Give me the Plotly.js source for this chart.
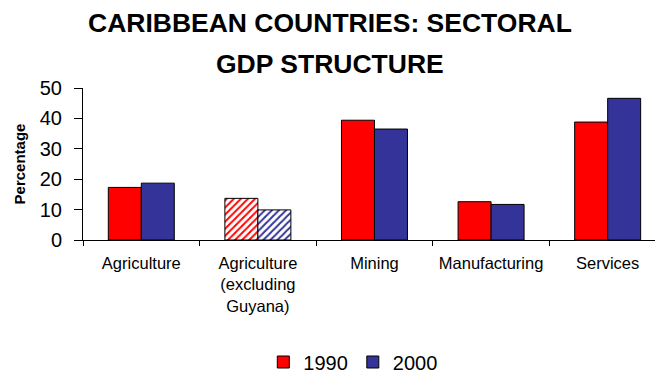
<!DOCTYPE html>
<html>
<head>
<meta charset="utf-8">
<script src="https://cdn.plot.ly/plotly-3.0.1.min.js"></script>
<style>html,body{margin:0;padding:0;background:#fff;}#chart{width:655px;height:373px;}</style>
</head>
<body>
<div id="chart"></div>
<script>
const categories = ["Agriculture", "Agriculture<br>(excluding<br>Guyana)", "Mining", "Manufacturing", "Services"];
const values1990 = [17.3, 13.7, 39.4, 12.6, 38.8];
const values2000 = [18.7, 9.9, 36.5, 11.7, 46.6];
const hatched = ["", "/", "", "", ""];
const titleLine1 = "CARIBBEAN COUNTRIES: SECTORAL";
const titleLine2 = "GDP STRUCTURE";

const FONT = "Liberation Sans, Arial, sans-serif";

function series(name, vals, color) {
  return {
    type: "bar",
    name: name,
    x: categories,
    y: vals,
    marker: {
      color: color,
      line: {color: "#000000", width: 1},
      pattern: {shape: hatched, bgcolor: "#ffffff", size: 5, solidity: 0.4}
    },
    hoverinfo: "x+y+name"
  };
}

const data = [
  series("1990", values1990, "#ff0000"),
  series("2000", values2000, "#333399")
];

const ML = 82.5, MT = 88, MB = 133, W = 655, H = 373;
const plotW = W - ML, plotH = H - MT - MB;
function px2paperX(px) { return (px - ML) / plotW; }
function px2paperY(py) { return (H - MB - py) / plotH; }

const layout = {
  width: W,
  height: H,
  margin: {l: ML, r: 0, t: MT, b: MB, pad: 0},
  paper_bgcolor: "#ffffff",
  plot_bgcolor: "#ffffff",
  font: {family: FONT, color: "#000000"},
  barmode: "group",
  bargap: 0.434,
  bargroupgap: 0,
  showlegend: true,
  legend: {
    orientation: "h",
    xref: "container", yref: "container",
    x: 0.402, xanchor: "left",
    y: 11 / H, yanchor: "middle",
    font: {size: 20, family: FONT},
    traceorder: "normal"
  },
  xaxis: {
    type: "category",
    range: [-0.5, 4.406],
    showline: true, linecolor: "#000000", linewidth: 1,
    ticks: "outside", tickson: "boundaries", ticklen: 5, tickcolor: "#000000",
    ticklabelstandoff: 8,
    showgrid: false, zeroline: false,
    tickfont: {size: 16.5, family: FONT},
    fixedrange: true
  },
  yaxis: {
    range: [0, 50],
    dtick: 10,
    showline: true, linecolor: "#000000", linewidth: 1,
    ticks: "outside", ticklen: 8, tickcolor: "#000000",
    ticklabelstandoff: 8,
    showgrid: false, zeroline: false,
    tickfont: {size: 20, family: FONT},
    title: {text: "<b>Percentage</b>", font: {size: 15, family: FONT}, standoff: 10},
    fixedrange: true
  },
  annotations: [
    {text: "<b>" + titleLine1 + "</b>", xref: "paper", yref: "paper",
     x: px2paperX(330), y: px2paperY(23), showarrow: false,
     font: {size: 26.5, family: FONT}, xanchor: "center", yanchor: "middle"},
    {text: "<b>" + titleLine2 + "</b>", xref: "paper", yref: "paper",
     x: px2paperX(330), y: px2paperY(64), showarrow: false,
     font: {size: 26.5, family: FONT}, xanchor: "center", yanchor: "middle"}
  ]
};

Plotly.newPlot("chart", data, layout, {displayModeBar: false, staticPlot: true});
</script>
</body>
</html>
